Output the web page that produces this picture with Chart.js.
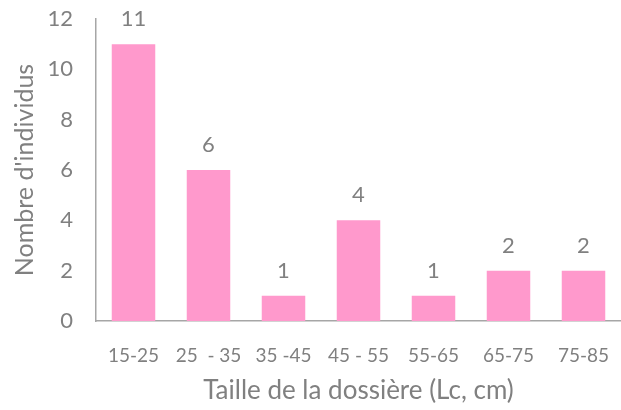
<!DOCTYPE html>
<html>
<head>
<meta charset="utf-8">
<script src="https://cdn.jsdelivr.net/npm/chart.js@4"></script>
<style>
  html, body { margin: 0; padding: 0; background: #fff; }
  #wrap { width: 621px; height: 410px; position: relative; }
</style>
</head>
<body>
<div id="wrap"><canvas id="myBarChart"></canvas></div>
<script>
  // Données
  var categories = ['15-25', '25  - 35', '35 -45', '45 - 55', '55-65', '65-75', '75-85'];
  var effectifs = [11, 6, 1, 4, 1, 2, 2];
  var yTicks = [0, 2, 4, 6, 8, 10, 12];

  var gris = '#808080';
  var police = 'Lato, "Open Sans", sans-serif';

  // Étiquettes de valeur au-dessus des barres
  var valeursPlugin = {
      id: 'valeurs',
      afterDatasetsDraw: function(chart) {
          var ctx = chart.ctx;
          var meta = chart.getDatasetMeta(0);
          ctx.save();
          ctx.fillStyle = gris;
          ctx.font = '22px ' + police;
          ctx.textAlign = 'center';
          ctx.textBaseline = 'middle';
          meta.data.forEach(function(bar, i) {
              ctx.fillText(String(effectifs[i]), bar.x, bar.y - 25);
          });
          ctx.restore();
      }
  };

  var ctx = document.getElementById('myBarChart').getContext('2d');
  var myBarChart = new Chart(ctx, {
      type: 'bar',
      data: {
          labels: categories,
          datasets: [{
              label: "Nombre d'individus",
              data: effectifs,
              backgroundColor: '#ff99cc',
              borderWidth: 0,
              barPercentage: 0.58,
              categoryPercentage: 1
          }]
      },
      plugins: [valeursPlugin],
      options: {
          responsive: true,
          maintainAspectRatio: false,
          animation: false,
          layout: { padding: { top: 19, right: 0, left: 0, bottom: 0 } },
          plugins: {
              legend: { display: false },
              tooltip: { enabled: false }
          },
          scales: {
              x: {
                  grid: { display: false },
                  border: { display: true, color: '#a6a6a6', width: 1.5 },
                  ticks: { color: gris, font: { family: police, size: 19 }, padding: 15, maxRotation: 0, autoSkip: false },
                  title: { display: true, text: 'Taille de la dossière (Lc, cm)', color: gris, font: { family: police, size: 26 }, padding: { top: 6, bottom: 4 } },
                  afterFit: function(s) { s.height = 89; s.paddingLeft = 0; s.paddingRight = 0; }
              },
              y: {
                  min: 0,
                  max: 12,
                  grid: { display: false },
                  border: { display: true, color: '#a6a6a6', width: 1.5 },
                  afterBuildTicks: function(s) { s.ticks = yTicks.map(function(v) { return { value: v }; }); },
                  ticks: { color: gris, font: { family: police, size: 22 }, padding: 15 },
                  title: { display: true, text: "Nombre d'individus", color: gris, font: { family: police, size: 25 }, padding: { top: 10, bottom: 4 } },
                  afterFit: function(s) { s.width = 96; s.paddingTop = 0; s.paddingBottom = 0; }
              }
          }
      }
  });
</script>
</body>
</html>
